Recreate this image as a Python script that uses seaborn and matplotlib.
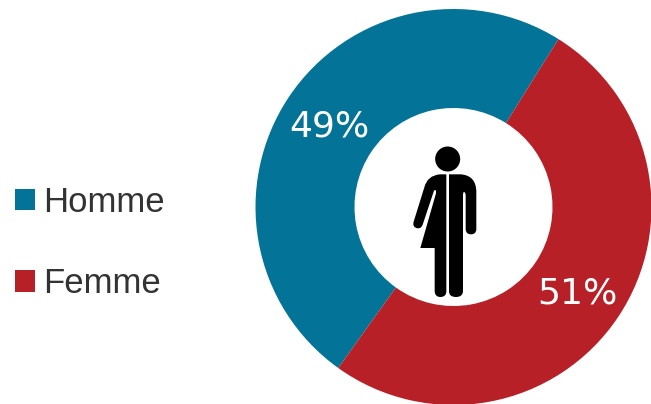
import matplotlib
matplotlib.use('Agg')
import matplotlib.pyplot as plt
import seaborn as sns
from matplotlib.patches import Circle, Patch, PathPatch
from matplotlib.path import Path

labels = ['Homme', 'Femme']
values = [49, 51]
colors = ['#047398', '#B72027']

W, H = 651, 404
sns.set_theme(style='white')
plt.rcParams['font.family'] = ['Liberation Sans', 'DejaVu Sans']

fig = plt.figure(figsize=(W / 100, H / 100), dpi=100)
ax = fig.add_axes([0, 0, 1, 1])

cx, cy = 453.5, H - 207
wedges, _, pcts = ax.pie(values, colors=sns.color_palette(colors), startangle=58,
                         center=(cx, cy), radius=198, autopct='%d%%', pctdistance=0.755,
                         wedgeprops={'width': 99, 'linewidth': 0})
for t in pcts:
    t.set(color='white', fontsize=26, family='DejaVu Sans')
    t.set_y(t.get_position()[1] - 3)

ax.set_xlim(0, W)
ax.set_ylim(0, H)
ax.set_aspect('equal')
ax.axis('off')


# the icon in the middle, traced in pixels of the picture
def pt(x, y):
    return (390 + x / 3, H - (130 + y / 3))


def shape(parts):
    verts, codes = [pt(*parts[0])], [Path.MOVETO]
    for p in parts[1:]:
        if len(p) == 2:
            verts.append(pt(*p))
            codes.append(Path.LINETO)
        else:
            verts += [pt(p[0], p[1]), pt(p[2], p[3])]
            codes += [Path.CURVE3, Path.CURVE3]
    verts.append(verts[0])
    codes.append(Path.CLOSEPOLY)
    return Path(verts, codes)


left_half = [(169, 133), (150, 133), (112, 136, 103, 172), (71, 275), (66, 292, 83, 295),
             (95, 296, 99, 281), (132, 182), (135, 178, 138, 182), (138, 190), (91, 354), (134, 354),
             (134, 484), (135, 501, 151, 501), (169, 501, 169, 484)]
right_half = [(177, 133), (212, 133), (258, 136, 259, 185), (259, 298), (258, 313, 243, 313),
              (228, 313, 227, 298), (227, 195), (226, 186, 222, 186), (219, 186, 219, 195), (219, 484),
              (218, 501, 198, 501), (177, 501, 177, 484)]
ax.add_patch(Circle(pt(173, 87), 37.5 / 3, color='black', lw=0, zorder=3))
ax.add_patch(PathPatch(shape(left_half), fc='black', lw=0, zorder=3))
ax.add_patch(PathPatch(shape(right_half), fc='black', lw=0, zorder=3))

handles = [Patch(color=c, label=l, lw=0) for c, l in zip(colors, labels)]
ax.legend(handles=handles, loc='center left', bbox_to_anchor=(15 / W, 1 - 243 / H),
          frameon=False, fontsize=25, labelcolor='#333333', borderaxespad=0, borderpad=0,
          handlelength=0.58, handleheight=0.58, handletextpad=0.24, labelspacing=1.4)

fig.savefig('out.png', dpi=100)
